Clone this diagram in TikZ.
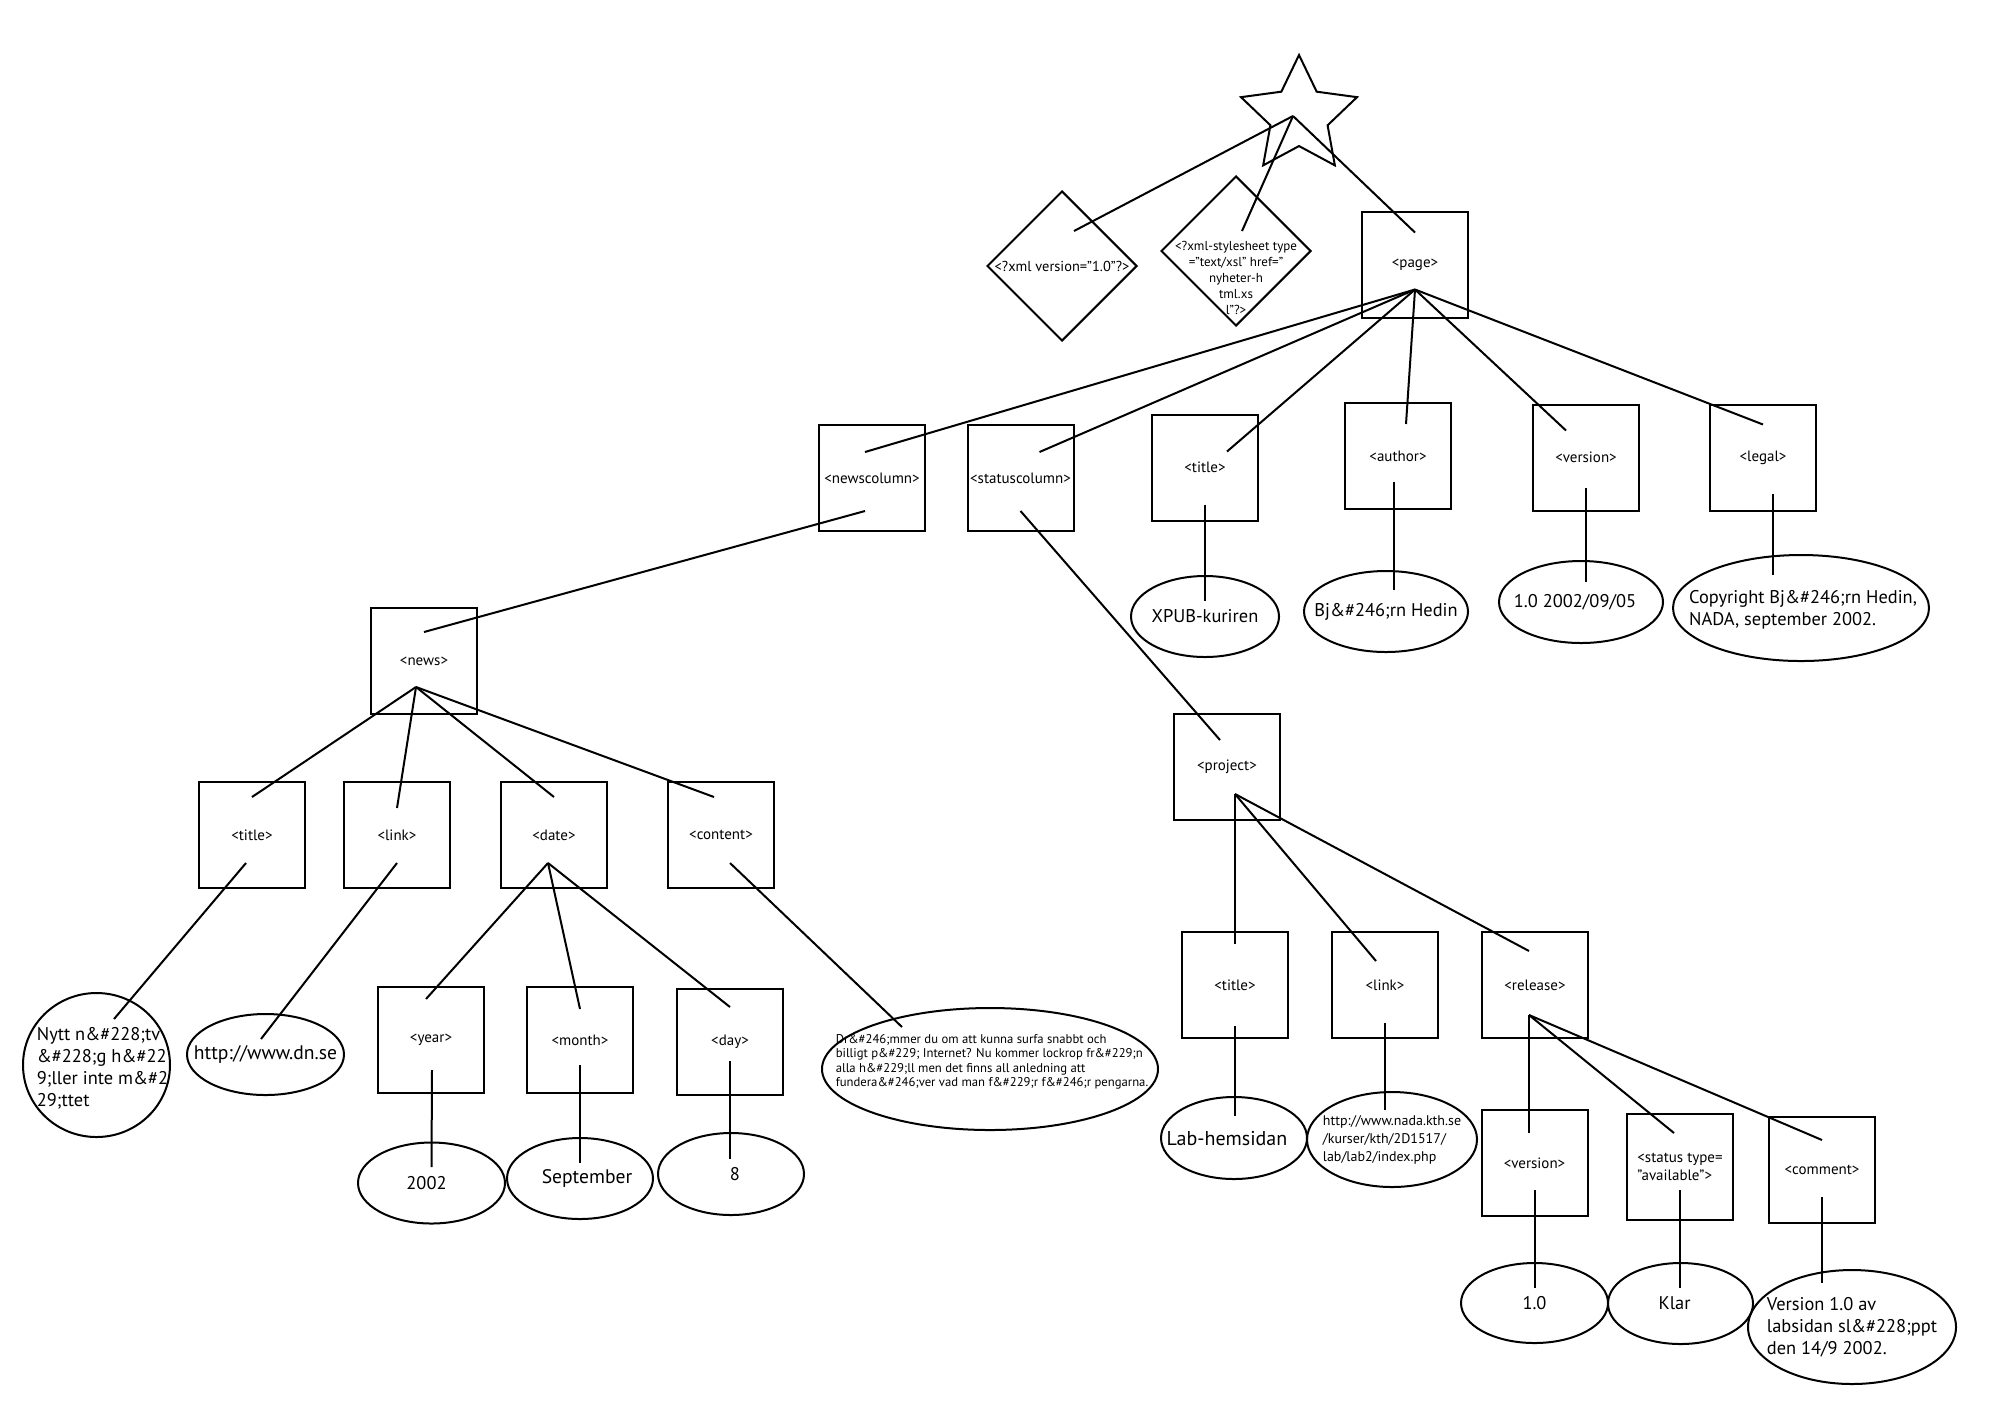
\documentclass[tikz,border=0pt]{standalone}
\usepackage{fontspec}
\setmainfont{PT Sans}
\usetikzlibrary{shapes.geometric, calc}

\tikzset{
  tagbox/.style={draw, rectangle, minimum size=53pt, inner sep=0pt, font=\fontsize{7.5}{9}\selectfont},
  pibox/.style={draw, diamond, minimum size=75pt, inner sep=0pt},
  leaf/.style={draw, ellipse, inner sep=0pt},
  bigtxt/.style={inner sep=0pt, align=left, font=\fontsize{9.2}{11}\selectfont},
  midtxt/.style={inner sep=0pt, align=left, font=\fontsize{7}{9}\selectfont},
  smalltxt/.style={inner sep=0pt, align=left, font=\fontsize{6.35}{7.25}\selectfont},
}

\begin{document}
\begin{tikzpicture}[x=0.5pt, y=-0.5pt, line width=1pt]
    \useasboundingbox (0,0) rectangle (2000,1410);

    % Document root and processing instructions
    \node[draw, star, star points=5, star point ratio=2.03, minimum size=61pt, inner sep=0pt] (root) at (1299,116) {};
    \node[pibox] (decl) at (1062,266) {};
    \node[inner sep=0pt, font=\fontsize{7.2}{8}\selectfont] (decl-t) at (decl) {<?xml version="1.0"?>};
    \node[pibox] (style) at (1236,251) {};
    \node[inner sep=0pt, align=center, font=\fontsize{6.5}{8}\selectfont] (style-t) at ($(style)+(0,27)$)
        {<?xml-stylesheet type\\="text/xsl" href="\\nyheter-h\\tml.xs\\l"?>};

    % Element boxes
    \node[tagbox] (page) at (1415,264.5) {<page>};
    \node[tagbox] (newscol) at (872,478) {<newscolumn>};
    \node[tagbox] (statuscol) at (1020.5,478) {<statuscolumn>};
    \node[tagbox] (ptitle) at (1205,467.5) {<title>};
    \node[tagbox] (author) at (1398,456) {<author>};
    \node[tagbox] (version) at (1586,457.5) {<version>};
    \node[tagbox] (legal) at (1763,457.5) {<legal>};
    \node[tagbox] (news) at (424,661) {<news>};
    \node[tagbox] (project) at (1227,767) {<project>};
    \node[tagbox] (ntitle) at (252,835) {<title>};
    \node[tagbox] (nlink) at (397,835) {<link>};
    \node[tagbox] (date) at (554,835) {<date>};
    \node[tagbox] (content) at (721,835) {<content>};
    \node[tagbox] (year) at (431,1040) {<year>};
    \node[tagbox] (month) at (580,1040) {<month>};
    \node[tagbox] (day) at (730,1042) {<day>};
    \node[tagbox] (rtitle) at (1235,985) {<title>};
    \node[tagbox] (rlink) at (1385,985) {<link>};
    \node[tagbox] (release) at (1535,985) {<release>};
    \node[tagbox] (rversion) at (1534.5,1163) {<version>};
    \node[tagbox, align=left] (status) at (1680,1167) {<status type=\\"available">};
    \node[tagbox] (comment) at (1822,1170) {<comment>};

    % Text leaves
    \node[leaf, minimum width=74pt, minimum height=40.5pt] (xpub) at (1205,616.5) {};
    \node[bigtxt] (xpub-t) at (xpub) {XPUB-kuriren};
    \node[leaf, minimum width=82pt, minimum height=40.5pt] (bj) at (1386,611.5) {};
    \node[bigtxt] (bj-t) at (bj) {Bj\&\#246;rn Hedin};
    \node[leaf, minimum width=82pt, minimum height=41pt] (vdate) at (1581,602) {};
    \node[bigtxt] (vdate-t) at ($(vdate)+(-6,0)$) {1.0 2002/09/05};
    \node[leaf, minimum width=128pt, minimum height=53pt] (copy) at (1801,608) {};
    \node[bigtxt] (copy-t) at ($(copy)+(2,2)$) {Copyright Bj\&\#246;rn Hedin,\\NADA, september 2002.};
    \node[leaf, minimum width=73.5pt, minimum height=72pt] (nytt) at (96.5,1065) {};
    \node[bigtxt] (nytt-t) at ($(nytt)+(6,3)$) {Nytt n\&\#228;tv\\\&\#228;g h\&\#22\\9;ller inte m\&\#2\\29;ttet};
    \node[leaf, minimum width=78.5pt, minimum height=40.5pt] (dn) at (265.5,1054.5) {};
    \node[bigtxt, font=\fontsize{9.8}{11}\selectfont] (dn-t) at (dn) {http://www.dn.se};
    \node[leaf, minimum width=168pt, minimum height=61pt] (story) at (990,1069) {};
    \node[smalltxt] (story-t) at ($(story)+(2,-7)$) {Dr\&\#246;mmer du om att kunna surfa snabbt och\\billigt p\&\#229; Internet? Nu kommer lockrop fr\&\#229;n\\alla h\&\#229;ll men det finns all anledning att\\fundera\&\#246;ver vad man f\&\#229;r f\&\#246;r pengarna.};
    \node[leaf, minimum width=73.5pt, minimum height=40.5pt] (y2002) at (431.5,1183) {};
    \node[bigtxt] (y2002-t) at ($(y2002)+(-5,0)$) {2002};
    \node[leaf, minimum width=73pt, minimum height=40.5pt] (sept) at (580,1178.5) {};
    \node[bigtxt, font=\fontsize{9.8}{11}\selectfont] (sept-t) at ($(sept)+(7,0)$) {September};
    \node[leaf, minimum width=73pt, minimum height=41pt] (eight) at (731,1174) {};
    \node[bigtxt] (eight-t) at ($(eight)+(4,0)$) {8};
    \node[leaf, minimum width=73pt, minimum height=41pt] (lab) at (1234,1138) {};
    \node[bigtxt, font=\fontsize{10}{11}\selectfont] (lab-t) at ($(lab)+(-7,1)$) {Lab-hemsidan};
    \node[leaf, minimum width=85pt, minimum height=47.5pt] (url) at (1392,1139.5) {};
    \node[midtxt] (url-t) at (url) {http://www.nada.kth.se\\/kurser/kth/2D1517/\\lab/lab2/index.php};
    \node[leaf, minimum width=73.5pt, minimum height=40pt] (v10) at (1534.5,1303) {};
    \node[bigtxt] (v10-t) at (v10) {1.0};
    \node[leaf, minimum width=72.5pt, minimum height=40.5pt] (klar) at (1680.5,1303.5) {};
    \node[bigtxt] (klar-t) at ($(klar)+(-6,0)$) {Klar};
    \node[leaf, minimum width=104pt, minimum height=57pt] (vcom) at (1852,1327) {};
    \node[bigtxt] (vcom-t) at (vcom) {Version 1.0 av\\labsidan sl\&\#228;ppt\\den 14/9 2002.};

    % Tree edges
    \foreach \a/\sx/\sy/\b/\ex/\ey in {
        root/-6/0/decl/12/-35, root/-6/0/style/6/-20, root/-6/0/page/0/-32,
        page/0/25/newscol/-7/-26, page/0/25/statuscol/19/-26, page/0/25/ptitle/22/-16,
        page/0/25/author/8/-32, page/0/25/version/-20/-27, page/0/25/legal/0/-33,
        newscol/-7/33/news/0/-29, statuscol/0/33/project/-7/-27,
        ptitle/0/37/xpub/0/-15.5, author/-4/26/bj/8/-21.5, version/0/30/vdate/5/-20, legal/10/36/copy/-28/-33,
        news/-8/26/ntitle/0/-38, news/-8/26/nlink/0/-27, news/-8/26/date/0/-38, news/-8/26/content/-7/-38,
        ntitle/-6/28/nytt/17.5/-46, nlink/0/28/dn/-4.5/-15.5, content/9/28/story/-88/-42,
        date/-6/28/year/-5/-41, date/-6/28/month/0/-31, date/-6/28/day/0/-35,
        year/1/30/y2002/0/-16, month/0/25/sept/0/-15.5, day/0/19/eight/-1/-15,
        project/8/27/rtitle/0/-41, project/8/27/rlink/-9/-24, project/8/27/release/-6/-34,
        rtitle/0/41/lab/1/-22, rlink/0/38/url/-7/-29.5,
        release/-6/30/rversion/-5.5/-30, release/-6/30/status/-6/-34, release/-6/30/comment/0/-30,
        rversion/0/27/v10/0/-15, status/0/23/klar/-0.5/-15.5, comment/0/27/vcom/-30/-44}
        \draw ($(\a)+(\sx,\sy)$) -- ($(\b)+(\ex,\ey)$);
\end{tikzpicture}
\end{document}
